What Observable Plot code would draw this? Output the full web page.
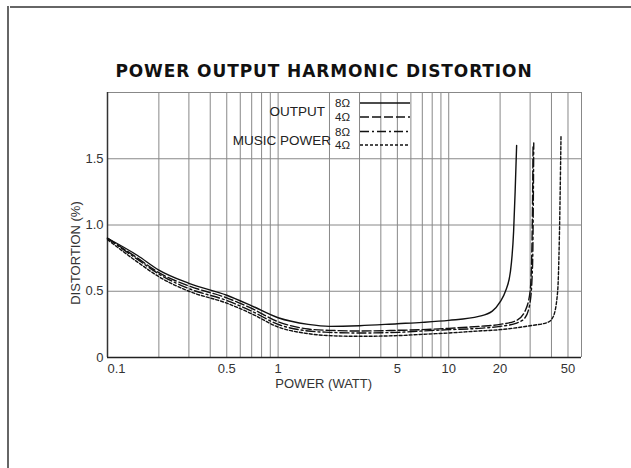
<!DOCTYPE html>
<html>
<head>
<meta charset="utf-8">
<script src="https://cdn.jsdelivr.net/npm/d3@7"></script>
<script src="https://cdn.jsdelivr.net/npm/@observablehq/plot@0.6"></script>
<style>
  html, body { margin: 0; padding: 0; background: #fff; }
  #chart { position: relative; width: 631px; height: 468px; }
</style>
</head>
<body>
<div id="chart"></div>
<script>
// ---- Data ----
const title = "POWER OUTPUT HARMONIC DISTORTION";
const xLabel = "POWER (WATT)";
const yLabel = "DISTORTION (%)";

const xTicks = [0.5, 1, 5, 10, 20, 50];
const xTickLabels = ["0.5", "1", "5", "10", "20", "50"];
const xFirstTick = [0.1], xFirstLabel = ["0.1"];
const yTicks = [0, 0.5, 1, 1.5];
const yTickLabels = ["0", "0.5", "1.0", "1.5"];
const gridX = [0.2,0.3,0.4,0.5,0.6,0.7,0.8,0.9,1,2,3,4,5,6,7,8,9,10,20,30,40,50,60];
const gridY = [0.5, 1, 1.5, 2];

// OUTPUT 8Ω (solid)
const out8P = [0.1,0.15,0.2,0.3,0.5,0.7,1,1.5,2,3,5,7,10,15,18,20,21.5,23,24,24.5,25];
const out8D = [0.9,0.77,0.66,0.56,0.47,0.39,0.30,0.25,0.235,0.24,0.255,0.265,0.28,0.31,0.35,0.42,0.5,0.65,0.95,1.25,1.6];
// OUTPUT 4Ω (dashed)
const out4P = [0.1,0.15,0.2,0.3,0.5,0.7,1,1.5,2,3,5,7,10,15,20,25,28,30,30.8,31.2];
const out4D = [0.9,0.75,0.64,0.54,0.45,0.37,0.27,0.215,0.205,0.2,0.205,0.21,0.22,0.235,0.25,0.28,0.35,0.5,0.9,1.6];
// MUSIC POWER 8Ω (dash-dot)
const mus8P = [0.1,0.15,0.2,0.3,0.5,0.7,1,1.5,2,3,5,7,10,15,20,25,28,30,31,31.5];
const mus8D = [0.9,0.74,0.63,0.52,0.43,0.35,0.25,0.2,0.19,0.185,0.19,0.2,0.21,0.22,0.235,0.26,0.3,0.42,0.7,1.62];
// MUSIC POWER 4Ω (short dashes)
const mus4P = [0.1,0.15,0.2,0.3,0.5,0.7,1,1.5,2,3,5,7,10,15,20,30,38,41,43.5,44.5,45.5];
const mus4D = [0.89,0.72,0.61,0.5,0.41,0.33,0.23,0.18,0.165,0.16,0.165,0.175,0.185,0.2,0.21,0.24,0.265,0.31,0.5,0.9,1.67];

const seriesNames = ["OUTPUT 8Ω", "OUTPUT 4Ω", "MUSIC POWER 8Ω", "MUSIC POWER 4Ω"];
const seriesDash = [null, "9,3", "9,3,2,3", "3,2"];

const seriesData = [
  [out8P, out8D], [out4P, out4D], [mus8P, mus8D], [mus4P, mus4D]
].map(([P, D], i) => P.map((p, j) => ({power: p, dist: D[j], s: i})));

const font = "'Liberation Sans', Arial, sans-serif";
const labelInk = "#333";

const plot = Plot.plot({
  width: 631,
  height: 468,
  marginLeft: 107,
  marginRight: 50,
  marginTop: 92,
  marginBottom: 111,
  style: {fontFamily: font, fontSize: "13px", background: "transparent"},
  x: {type: "log", domain: [0.1, 60], axis: null},
  y: {domain: [0, 2], axis: null},
  marks: [
    Plot.ruleX(gridX, {stroke: "#888", strokeWidth: 1}),
    Plot.ruleY(gridY, {stroke: "#888", strokeWidth: 1}),
    Plot.ruleX([0.1], {stroke: "#333", strokeWidth: 1.5}),
    Plot.ruleY([0], {stroke: "#222", strokeWidth: 1.5}),
    // y tick labels
    Plot.text(yTicks, {y: d => d, text: (d, i) => yTickLabels[i], frameAnchor: "left", textAnchor: "end", dx: -4, fontSize: 13, fill: labelInk}),
    // x tick labels
    Plot.text(xTicks, {x: d => d, text: (d, i) => xTickLabels[i], frameAnchor: "bottom", lineAnchor: "top", dy: 6, fontSize: 13, fill: labelInk}),
    Plot.text(xFirstTick, {x: d => d, text: (d, i) => xFirstLabel[i], frameAnchor: "bottom", textAnchor: "start", lineAnchor: "top", dy: 6, fontSize: 13, fill: labelInk}),
    // x axis label
    Plot.text([xLabel], {x: [1.85], frameAnchor: "bottom", lineAnchor: "top", dy: 21, fontSize: 13, fill: labelInk}),
    ...seriesData.map((d, i) => Plot.line(d, {
      x: "power", y: "dist", stroke: "#111", strokeWidth: 1.4,
      strokeDasharray: seriesDash[i], curve: "monotone-x"
    }))
  ]
});

document.getElementById("chart").appendChild(plot);

// ---- Decorations: page frame, title, y label, legend ----
const svg = d3.select(plot);
const deco = svg.append("g").attr("font-family", font).attr("text-anchor", "start");

// scanned page frame (top & left edges)
deco.append("line").attr("x1", 10).attr("x2", 631).attr("y1", 7).attr("y2", 7).attr("stroke", "#666").attr("stroke-width", 2);
deco.append("line").attr("x1", 8).attr("x2", 8).attr("y1", 6).attr("y2", 468).attr("stroke", "#666").attr("stroke-width", 2);

// title
deco.append("text").attr("x", 324).attr("y", 77).attr("text-anchor", "middle")
  .attr("font-family", "'DejaVu Sans', Arial, sans-serif")
  .attr("font-size", 17).attr("font-weight", "bold").attr("letter-spacing", 0.9).attr("fill", "#111").text(title);

// y axis label
deco.append("text").attr("transform", "translate(80,253) rotate(-90)").attr("text-anchor", "middle")
  .attr("font-size", 13).attr("fill", labelInk).text(yLabel);

// legend
const lineX1 = 360, lineX2 = 410;
const rowY = [103, 117, 131.5, 145];
const groupLabels = [["OUTPUT", 325, 116], ["MUSIC POWER", 331, 145]];
groupLabels.forEach(([t, x, y]) => deco.append("text").attr("x", x).attr("y", y)
  .attr("text-anchor", "end").attr("font-size", 13.5).attr("fill", "#222").text(t));
const ohms = ["8Ω", "4Ω", "8Ω", "4Ω"];
ohms.forEach((t, i) => {
  deco.append("text").attr("x", 335).attr("y", rowY[i] + 4).attr("text-anchor", "start")
    .attr("font-size", 11.5).attr("fill", "#222").text(t);
  deco.append("line").attr("x1", lineX1).attr("x2", lineX2).attr("y1", rowY[i]).attr("y2", rowY[i])
    .attr("stroke", "#111").attr("stroke-width", 1.4).attr("stroke-dasharray", seriesDash[i]);
});
</script>
</body>
</html>
